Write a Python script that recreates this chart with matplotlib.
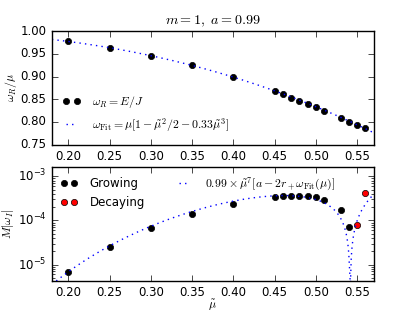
import numpy as np
import matplotlib
matplotlib.use('Agg')
import matplotlib.pyplot as plt

plt.style.use('classic')
plt.rcParams['font.size'] = 8.5
plt.rcParams['mathtext.fontset'] = 'cm'
plt.rcParams['savefig.facecolor'] = 'white'

# masses (mu tilde) and real frequencies
mu = [0.20, 0.25, 0.30, 0.35, 0.40, 0.45, 0.46, 0.47, 0.48, 0.49, 0.50, 0.51, 0.53, 0.54, 0.55, 0.56]
wr_mu = [0.978, 0.964, 0.946, 0.925, 0.898, 0.868, 0.861, 0.853, 0.847, 0.839,
         0.832, 0.825, 0.809, 0.801, 0.793, 0.787]

# imaginary part, growing and decaying modes
mu_grow = [0.20, 0.25, 0.30, 0.35, 0.40, 0.45, 0.46, 0.47, 0.48, 0.49, 0.50, 0.51, 0.53, 0.54]
wi_grow = [6.97e-6, 2.53e-5, 6.73e-5, 1.38e-4, 2.40e-4, 3.38e-4, 3.50e-4, 3.62e-4,
           3.60e-4, 3.50e-4, 3.38e-4, 2.84e-4, 1.76e-4, 7.1e-5]
mu_decay = [0.55, 0.56]
wi_decay = [8.1e-5, 4.14e-4]

# fit
a = 0.99
c3 = 0.33
rp = 1 + np.sqrt(1 - a**2)
mu_fit = np.linspace(0.18, 0.57, 391)
w_fit = mu_fit*(1 - mu_fit**2/2 - c3*mu_fit**3)
wi_fit = a*mu_fit**7*np.abs(a - 2*rp*w_fit)

fig, (ax1, ax2) = plt.subplots(2, 1, figsize=(4.15, 3.12), dpi=100)

ax1.plot(mu, wr_mu, 'ko', ms=4.5, mec='k', label=r'$\omega_R = E/J$')
ax1.plot(mu_fit, w_fit/mu_fit, 'b:', lw=1,
         label=r'$\omega_{\rm Fit} = \mu[1-\tilde{\mu}^2/2-0.33\tilde{\mu}^3]$')
ax1.set_xlim(0.18, 0.57)
ax1.set_ylim(0.75, 1.00)
ax1.set_xticks(np.arange(0.20, 0.56, 0.05))
ax1.set_yticks(np.arange(0.75, 1.001, 0.05))
ax1.xaxis.set_major_formatter(matplotlib.ticker.FormatStrFormatter('%.2f'))
ax1.yaxis.set_major_formatter(matplotlib.ticker.FormatStrFormatter('%.2f'))
ax1.set_ylabel(r'$\omega_R/\mu$', labelpad=1)
ax1.set_title(r'$m=1,\ a=0.99$', fontsize=10.2)
ax1.legend(loc='lower left', frameon=False, numpoints=2, handlelength=1.5,
           handletextpad=1.0, fontsize=8.5)

ax2.semilogy(mu_grow, wi_grow, 'ko', ms=4.5, mec='k', label='Growing')
ax2.semilogy(mu_decay, wi_decay, 'ro', ms=4.5, mec='k', label='Decaying')
ax2.semilogy(mu_fit, wi_fit, 'b:', lw=1,
             label=r'$0.99\times\tilde{\mu}^7[a-2r_+\omega_{\rm Fit}(\mu)]$')
ax2.set_xlim(0.18, 0.57)
ax2.set_ylim(4.3e-6, 1.6e-3)
ax2.set_xticks(np.arange(0.20, 0.56, 0.05))
ax2.xaxis.set_major_formatter(matplotlib.ticker.FormatStrFormatter('%.2f'))
ax2.set_ylabel(r'$M|\omega_I|$', labelpad=1)
ax2.set_xlabel(r'$\tilde{\mu}$', labelpad=-1)
h, l = ax2.get_legend_handles_labels()
ax2.legend(h, l, loc='upper left', frameon=False, numpoints=2, ncol=2,
           handlelength=1.5, handletextpad=1.0, columnspacing=2.6, fontsize=8.5,
           borderaxespad=0.3)

fig.savefig('out.png', dpi=100)
